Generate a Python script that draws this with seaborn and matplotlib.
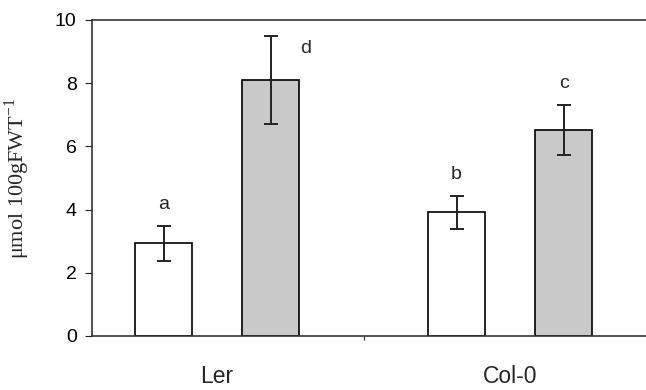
import matplotlib
matplotlib.use("Agg")
import matplotlib.pyplot as plt
import seaborn as sns
import pandas as pd

genotypes = ["Ler", "Ler", "Col-0", "Col-0"]
treatments = ["control", "treated", "control", "treated"]
means = [2.93, 8.10, 3.92, 6.52]
errors = [0.55, 1.40, 0.52, 0.80]
letters = ["a", "d", "b", "c"]

df = pd.DataFrame({"genotype": genotypes, "treatment": treatments, "value": means})

sns.set_style("ticks")
plt.rcParams["font.family"] = ["Liberation Sans", "DejaVu Sans"]

fig = plt.figure(figsize=(6.46, 3.9), dpi=100)
ax = fig.add_axes([92 / 646, 1 - 336 / 390, 1 - 92 / 646, (336 - 20) / 390])

sns.barplot(data=df, x="genotype", y="value", hue="treatment",
            order=["Ler", "Col-0"], hue_order=["control", "treated"],
            palette={"control": "white", "treated": "#c9c9c9"},
            edgecolor="black", linewidth=1.2, width=0.73, gap=0.47,
            errorbar=None, legend=False, ax=ax)

lookup = {(g, t): i for i, (g, t) in enumerate(zip(genotypes, treatments))}
for cont, trt in zip(ax.containers, ["control", "treated"]):
    for bar, g in zip(cont, ["Ler", "Col-0"]):
        i = lookup[(g, trt)]
        xc = bar.get_x() + bar.get_width() / 2
        ax.errorbar(xc, means[i], yerr=errors[i], fmt="none", ecolor="#222222",
                    elinewidth=1.4, capsize=4.7, capthick=1.4, zorder=5)
        top = means[i] + errors[i]
        if letters[i] == "d":
            ax.text(xc + bar.get_width() * 0.62, top - 0.4, letters[i],
                    ha="center", va="center", fontsize=14)
        else:
            ax.text(xc, top + 0.4, letters[i], ha="center", va="bottom",
                    fontsize=14)

ax.set_ylim(0, 10)
ax.set_yticks([0, 2, 4, 6, 8, 10])
ax.set_xlim(-0.427, 1.464)
ax.set_xticks([0, 1])
ax.set_xticklabels(["Ler", "Col-0"], fontsize=16.5)
ax.set_xticks([0.5], minor=True)
ax.tick_params(axis="x", which="major", length=0, pad=21)
ax.tick_params(axis="x", which="minor", length=3, width=0.8, direction="out")
ax.tick_params(axis="y", labelsize=14, length=5, width=0.8, pad=6,
               direction="out", colors="#222222", labelcolor="black")

for s in ["left", "bottom", "top"]:
    ax.spines[s].set_visible(True)
    ax.spines[s].set_linewidth(1.2)
    ax.spines[s].set_color("#333333")
ax.spines["right"].set_visible(False)

ax.set_xlabel("")
ax.set_ylabel("μmol 100gFWT$^{\\mathregular{-1}}$", fontsize=16,
              family=["Liberation Serif", "DejaVu Serif"])
ax.yaxis.set_label_coords(-0.108, 0.5)

fig.savefig("out.png", dpi=100)
